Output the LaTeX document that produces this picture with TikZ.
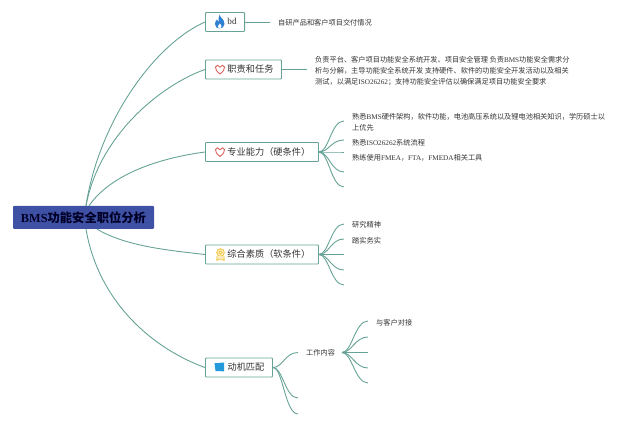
\documentclass[tikz,border=0pt]{standalone}
\usepackage{fontspec}
\setmainfont{Liberation Serif}
\newfontfamily\cjk{Noto Sans CJK SC}
\usetikzlibrary{positioning}
\definecolor{linkgreen}{HTML}{66A396}
\definecolor{rootblue}{HTML}{3F51A5}
\definecolor{heartred}{HTML}{D9605A}
\definecolor{flameblue}{HTML}{2F80D0}
\definecolor{medalyellow}{HTML}{F2C94C}
\newcommand{\lat}[1]{{\rmfamily #1}}
\tikzset{
	link/.style={draw=linkgreen, line width=0.9pt},
	rootbox/.style={
		fill=rootblue,
		rounded corners=1pt,
		anchor=center,
		minimum width=141pt,
		minimum height=23pt,
		inner sep=0pt,
		text=black!85!blue,
		font={\fontsize{12.3}{14}\selectfont\cjk\bfseries},
	},
	branch/.style={
		draw=linkgreen,
		line width=0.9pt,
		rounded corners=0.8pt,
		anchor=west,
		minimum height=19pt,
		inner xsep=0pt,
		inner ysep=0pt,
		text=black!80,
		font={\fontsize{9.2}{11}\selectfont\cjk},
	},
	leaf/.style={
		anchor=west,
		align=left,
		inner sep=0pt,
		text=black!80,
		font={\fontsize{7.2}{10.6}\selectfont\cjk},
	},
}
\begin{document}
\begin{tikzpicture}[x=1pt, y=-1pt]
\useasboundingbox (0,0) rectangle (640,427);

\node(root)[rootbox] at (83.5,217.5) {\lat{BMS}功能安全职位分析};

\node(bd)[branch, minimum width=39pt] at (205,22) {\hspace*{22pt}\raisebox{1pt}{\lat{bd}}\hspace*{8pt}};
\node(duty)[branch, minimum width=76pt] at (205,69.5) {\hspace*{22pt}职责和任务\hspace*{8pt}};
\node(skill)[branch, minimum width=113pt] at (205,152) {\hspace*{22pt}专业能力（硬条件）\hspace*{8.2pt}};
\node(soft)[branch, minimum width=113pt] at (205,254.5) {\hspace*{22pt}综合素质（软条件）\hspace*{8.2pt}};
\node(drive)[branch, minimum width=67pt] at (205,367.5) {\hspace*{22pt}动机匹配\hspace*{8pt}};

\draw[link] ([xshift=2.5pt]root.north) .. controls +(13,-85) and +(-50,22) .. (bd.west);
\draw[link] ([xshift=2.5pt]root.north) .. controls +(13,-70) and +(-45,16) .. (duty.west);
\draw[link] ([xshift=5.5pt]root.north) .. controls +(22,-32) and +(-45,6) .. (skill.west);
\draw[link] ([xshift=13.5pt]root.south) .. controls +(28,16) and +(-45,-5) .. (soft.west);
\draw[link] ([xshift=2.5pt]root.south) .. controls +(13,75) and +(-50,-18) .. (drive.west);

% bd
\node(bdtext)[leaf] at (278,22.5) {自研产品和客户项目交付情况};
\coordinate (bdend) at (270,22);
\draw[link] (bd.east) -- (bdend);

% duty
\node(dutytext)[leaf] at (315,71) {负责平台、客户项目功能安全系统开发、项目安全管理 负责\lat{BMS}功能安全需求分\\析与分解，主导功能安全系统开发 支持硬件、软件的功能安全开发活动以及相关\\测试，以满足\lat{ISO26262}；支持功能安全评估以确保满足项目功能安全要求};
\coordinate (dutyend) at (307,69.5);
\draw[link] (duty.east) -- (dutyend);

% skill
\node(skilla)[leaf] at (352,122.3) {熟悉\lat{BMS}硬件架构，软件功能，电池高压系统以及锂电池相关知识，学历硕士以\\上优先};
\node(skillb)[leaf] at (352,142.7) {熟悉\lat{ISO26262}系统流程};
\node(skillc)[leaf] at (352,157.7) {熟练使用\lat{FMEA}，\lat{FTA}，\lat{FMEDA}相关工具};
\coordinate (skilla end) at (344,121);
\coordinate (skillb end) at (344,140);
\coordinate (skillc end) at (344,152);
\coordinate (skilld end) at (344,172);
\coordinate (skille end) at (344,187);
\foreach \leafname in {a,b,c,d,e}
	\draw[link] (skill.east) .. controls +(10,0) and +(-13,0) .. (skill\leafname\space end);

% soft
\node(softa)[leaf] at (352,224.7) {研究精神};
\node(softb)[leaf] at (352,240.5) {踏实务实};
\coordinate (softa end) at (344,224);
\coordinate (softb end) at (344,239);
\coordinate (softc end) at (344,254.5);
\coordinate (softd end) at (344,270);
\coordinate (softe end) at (344,285);
\foreach \leafname in {a,b,c,d,e}
	\draw[link] (soft.east) .. controls +(10,0) and +(-13,0) .. (soft\leafname\space end);

% drive
\node(work)[leaf] at (306,353) {工作内容};
\coordinate (workend) at (298,352.5);
\coordinate (driveb end) at (298,398);
\coordinate (drivec end) at (298,414);
\foreach \leafname in {workend,driveb end,drivec end}
	\draw[link] (drive.east) .. controls +(10,0) and +(-13,0) .. (\leafname);

\node(client)[leaf] at (376,322.5) {与客户对接};
\coordinate (workout) at (342,352.5);
\coordinate (worka end) at (368,321);
\coordinate (workb end) at (368,337);
\coordinate (workc end) at (368,352.5);
\coordinate (workd end) at (368,368);
\coordinate (worke end) at (368,383);
\foreach \leafname in {a,b,c,d,e}
	\draw[link] (workout) .. controls +(10,0) and +(-13,0) .. (work\leafname\space end);

% icons
\fill[flameblue] (219.5,14.5) .. controls (220,18) and (224.5,19) .. (224.5,24) .. controls (224.5,27) and (222,28.5) .. (219.5,28.5) .. controls (217,28.5) and (215,27) .. (215,24) .. controls (215,22) and (216,20.5) .. (217,19.5) .. controls (217.3,21) and (217.8,21.5) .. (218.5,22) .. controls (218.5,19) and (218.5,17) .. (219.5,14.5) -- cycle;
\fill[white] (219.8,23.5) .. controls (221,25) and (221.8,26) .. (221.5,27) .. controls (221,28.8) and (218,28.8) .. (217.8,27) .. controls (217.8,26) and (219,25) .. (219.8,23.5) -- cycle;

\foreach \heartx/\hearty in {220/69.5, 220/152} {
	\draw[heartred, line width=0.9pt, line join=round] (\heartx,\hearty+4.5) .. controls (\heartx-3,\hearty+2) and (\heartx-5,\hearty) .. (\heartx-4.5,\hearty-2.5) .. controls (\heartx-4,\hearty-4.8) and (\heartx-1,\hearty-4.8) .. (\heartx,\hearty-2.2) .. controls (\heartx+1,\hearty-4.8) and (\heartx+4,\hearty-4.8) .. (\heartx+4.5,\hearty-2.5) .. controls (\heartx+5,\hearty) and (\heartx+3,\hearty+2) .. (\heartx,\hearty+4.5) -- cycle;
}

\draw[medalyellow, fill=medalyellow!35, line width=0.9pt] (220.5,252.5) circle (3.8pt);
\draw[medalyellow, line width=0.7pt] (220.5,252.5) circle (1.6pt);
\draw[medalyellow, fill=medalyellow!35, line width=0.8pt, line join=round] (217,256) -- (216.8,260.5) -- (220.5,258.8) -- (224.2,260.5) -- (224,256);

\fill[flameblue!80!cyan] (214.5,363) .. controls (218,364.3) and (220,362) .. (224,362.5) -- (224,371.5) .. controls (220,370.5) and (218,372) .. (215.5,371) -- cycle;
\end{tikzpicture}
\end{document}
